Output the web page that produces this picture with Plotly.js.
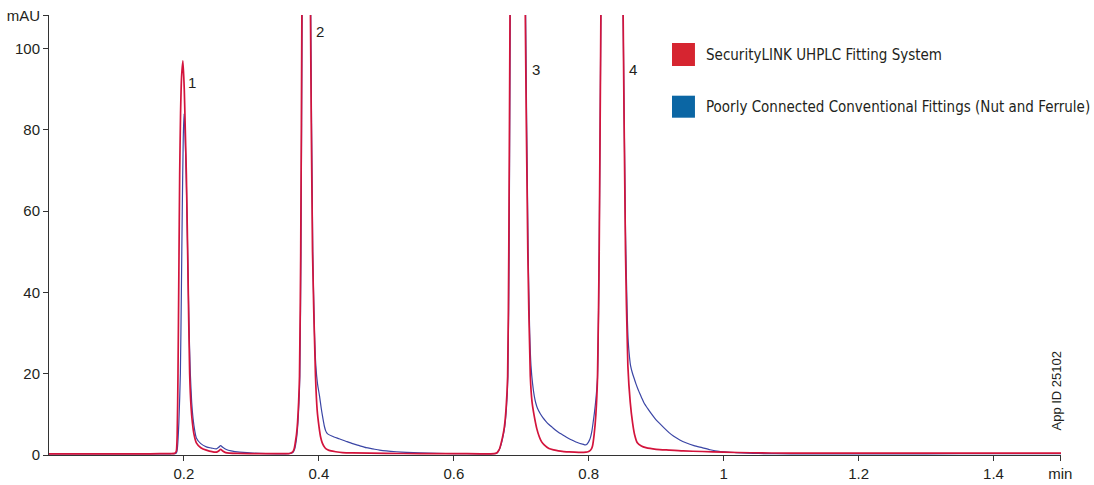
<!DOCTYPE html>
<html>
<head>
<meta charset="utf-8">
<script src="https://cdn.plot.ly/plotly-3.0.1.min.js"></script>
<style>
  html, body { margin: 0; padding: 0; background: #ffffff; }
  #chart { width: 1094px; height: 485px; }
</style>
</head>
<body>
<div id="chart"></div>
<script>
// ---- Data ----
const seriesNames = [
  "SecurityLINK UHPLC Fitting System",
  "Poorly Connected Conventional Fittings (Nut and Ferrule)"
];

// SecurityLINK UHPLC Fitting System (red)
const redTime = [0, 0.05, 0.1, 0.15, 0.18, 0.186, 0.1875, 0.1888, 0.19, 0.1912, 0.1925, 0.1937, 0.195, 0.1965, 0.1985, 0.2005, 0.202, 0.2036, 0.206, 0.2085, 0.2105, 0.2125, 0.215, 0.2184, 0.225, 0.2332, 0.248, 0.2515, 0.2544, 0.2575, 0.262, 0.28, 0.32, 0.355, 0.358, 0.3614, 0.3635, 0.365, 0.3668, 0.3684, 0.37, 0.3713, 0.3731, 0.3748, 0.3812, 0.3876, 0.3906, 0.395, 0.3975, 0.4002, 0.4025, 0.405, 0.409, 0.413, 0.418, 0.425, 0.435, 0.45, 0.5, 0.55, 0.6, 0.64, 0.66, 0.6635, 0.666, 0.668, 0.6695, 0.672, 0.675, 0.6775, 0.6798, 0.6815, 0.6833, 0.6947, 0.706, 0.7097, 0.7134, 0.716, 0.7193, 0.723, 0.7267, 0.73, 0.734, 0.741, 0.748, 0.755, 0.763, 0.771, 0.785, 0.796, 0.799, 0.8015, 0.804, 0.8056, 0.808, 0.8106, 0.813, 0.8155, 0.818, 0.8345, 0.851, 0.8545, 0.858, 0.8615, 0.865, 0.868, 0.872, 0.878, 0.8847, 0.9, 0.919, 0.94, 0.968, 1.0, 1.04, 1.1, 1.2, 1.3, 1.4, 1.5];
const redAbs  = [0.3, 0.3, 0.3, 0.3, 0.35, 0.4, 0.6, 1.0, 5, 20, 45, 69, 84, 93, 97, 90, 80, 69, 45, 20, 12, 8, 5, 3.0, 1.8, 1.2, 0.7, 1.0, 1.4, 1.0, 0.6, 0.4, 0.35, 0.35, 0.45, 0.8, 1.6, 3, 5, 8, 13, 19.4, 50, 108, 330, 108, 50, 19.4, 11, 7, 4.5, 3, 1.8, 1.3, 1.0, 0.8, 0.6, 0.5, 0.4, 0.35, 0.35, 0.3, 0.35, 0.5, 1.0, 1.6, 2.5, 4.2, 7, 11.5, 19.4, 50, 108, 450, 108, 50, 19.4, 13, 9.5, 6.5, 4.5, 3.3, 2.5, 1.6, 1.25, 1.0, 0.85, 0.75, 0.65, 0.7, 0.8, 1.0, 1.5, 2.2, 5, 10, 19, 50, 108, 450, 108, 50, 22, 13, 7.9, 5, 3.0, 2.2, 1.8, 1.4, 1.2, 1.0, 0.86, 0.7, 0.55, 0.45, 0.45, 0.45, 0.45, 0.45];

// Poorly Connected Conventional Fittings (blue)
const blueTime = [0, 0.1, 0.18, 0.188, 0.1895, 0.1905, 0.1925, 0.1947, 0.1962, 0.1975, 0.199, 0.2001, 0.2015, 0.2036, 0.2055, 0.2075, 0.2095, 0.2115, 0.2135, 0.216, 0.2184, 0.225, 0.2332, 0.241, 0.248, 0.2515, 0.2544, 0.2575, 0.2628, 0.27, 0.2825, 0.312, 0.355, 0.3614, 0.364, 0.3655, 0.3672, 0.369, 0.3705, 0.3718, 0.3735, 0.3752, 0.3815, 0.388, 0.391, 0.3935, 0.3955, 0.398, 0.401, 0.4035, 0.406, 0.408, 0.41, 0.4115, 0.413, 0.42, 0.43, 0.44, 0.45, 0.46, 0.47, 0.48, 0.49, 0.5, 0.515, 0.53, 0.55, 0.575, 0.6, 0.64, 0.66, 0.664, 0.667, 0.67, 0.6725, 0.6755, 0.678, 0.6802, 0.682, 0.6837, 0.695, 0.7065, 0.7102, 0.7125, 0.7144, 0.7168, 0.7193, 0.7215, 0.724, 0.728, 0.732, 0.7365, 0.741, 0.746, 0.751, 0.756, 0.761, 0.766, 0.771, 0.776, 0.781, 0.786, 0.79, 0.793, 0.795, 0.797, 0.7985, 0.8, 0.8015, 0.803, 0.8048, 0.8065, 0.8085, 0.8106, 0.813, 0.8155, 0.818, 0.8345, 0.851, 0.8545, 0.857, 0.8585, 0.8605, 0.862, 0.8645, 0.867, 0.87, 0.873, 0.876, 0.879, 0.882, 0.8875, 0.893, 0.8995, 0.906, 0.912, 0.919, 0.926, 0.935, 0.944, 0.956, 0.968, 0.98, 0.993, 1.005, 1.018, 1.035, 1.052, 1.1, 1.2, 1.3, 1.4, 1.5];
const blueAbs  = [0.3, 0.3, 0.3, 0.4, 0.8, 2, 8, 20, 40, 60, 78, 84, 80, 67, 50, 32, 20, 13, 9, 6, 4.2, 2.8, 2.0, 1.7, 1.5, 1.9, 2.3, 1.9, 1.35, 1.0, 0.7, 0.4, 0.35, 0.6, 1.4, 2.5, 4.5, 8, 13, 19.4, 50, 108, 330, 108, 50, 30, 22, 17.5, 14.5, 11.5, 9, 7.2, 6, 5.5, 5.2, 4.6, 4.0, 3.4, 2.8, 2.3, 1.8, 1.5, 1.2, 1.0, 0.8, 0.65, 0.5, 0.4, 0.35, 0.3, 0.35, 0.5, 1.2, 2.5, 4.2, 7, 11.5, 19.4, 50, 108, 450, 108, 50, 30, 22, 17.5, 14.5, 12.8, 11.5, 10.2, 9.2, 8.3, 7.5, 6.8, 6.1, 5.5, 5.0, 4.5, 4.0, 3.6, 3.2, 2.9, 2.7, 2.55, 2.5, 2.6, 2.9, 3.3, 3.8, 4.6, 6, 8, 10.5, 13.7, 19, 50, 108, 450, 108, 55, 35, 28, 24, 22, 20.3, 19, 17.5, 16.2, 15, 13.9, 12.8, 11.4, 10.1, 8.7, 7.6, 6.6, 5.5, 4.6, 3.7, 3.0, 2.3, 1.8, 1.3, 0.9, 0.72, 0.6, 0.45, 0.37, 0.3, 0.3, 0.3, 0.35, 0.35];

// Peak labels
const peakLabels = ["1", "2", "3", "4"];
const peakLabelX = [0.2125, 0.402, 0.7218, 0.8663];
const peakLabelY = [91.7, 104.3, 94.8, 94.8];

// Tick labels
const xTickVals = [0.2, 0.4, 0.6, 0.8, 1.0, 1.2, 1.4, 1.499];
const xTickText = ["0.2", "0.4", "0.6", "0.8", "1", "1.2", "1.4", "min"];
const yTickVals = [0, 20, 40, 60, 80, 100, 108.2];
const yTickText = ["0", "20", "40", "60", "80", "100", "mAU"];

const appId = "App ID 25102";

// ---- Styling ----
const lineRed = "#d3143c";
const lineBlue = "#3a45a5";
const legendRed = "#d62530";
const legendBlue = "#0b66a4";
const txt = "#231f20";
const fontFam = "Liberation Sans, Arial, Helvetica, sans-serif";
const narrowFam = "DejaVu Sans Condensed, Liberation Sans Narrow, sans-serif";

const traces = [
  { x: blueTime, y: blueAbs, type: "scatter", mode: "lines", name: seriesNames[1],
    line: { color: lineBlue, width: 1.2, shape: "spline", smoothing: 0.6 }, showlegend: false, hoverinfo: "skip" },
  { x: redTime, y: redAbs, type: "scatter", mode: "lines", name: seriesNames[0],
    line: { color: lineRed, width: 1.7, shape: "spline", smoothing: 0.6 }, showlegend: false, hoverinfo: "skip" }
];

const annotations = peakLabels.map((t, i) => ({
  x: peakLabelX[i], y: peakLabelY[i], xref: "x", yref: "y", text: t,
  showarrow: false, font: { family: fontFam, size: 15, color: txt },
  xanchor: "center", yanchor: "middle"
}));

// legend text
annotations.push({
  x: 0.6472, y: 0.9091, xref: "paper", yref: "paper", text: seriesNames[0],
  showarrow: false, xanchor: "left", yanchor: "middle",
  font: { family: narrowFam, size: 15, color: txt }
});
annotations.push({
  x: 0.6472, y: 0.7909, xref: "paper", yref: "paper", text: seriesNames[1],
  showarrow: false, xanchor: "left", yanchor: "middle",
  font: { family: narrowFam, size: 15, color: txt }
});
// App ID
annotations.push({
  x: 0.9958, y: 0.146, xref: "paper", yref: "paper", text: appId,
  showarrow: false, textangle: -90, xanchor: "center", yanchor: "middle",
  font: { family: fontFam, size: 13, color: txt }
});

const shapes = [
  { type: "rect", xref: "paper", yref: "paper", x0: 0.6156, x1: 0.6383, y0: 0.8841, y1: 0.9364,
    fillcolor: legendRed, line: { width: 0 } },
  { type: "rect", xref: "paper", yref: "paper", x0: 0.6156, x1: 0.6383, y0: 0.7666, y1: 0.8166,
    fillcolor: legendBlue, line: { width: 0 } }
];

const layout = {
  width: 1094, height: 485,
  margin: { l: 49, r: 33, t: 15, b: 30, pad: 0 },
  paper_bgcolor: "#ffffff", plot_bgcolor: "#ffffff",
  showlegend: false,
  font: { family: fontFam, size: 15, color: txt },
  xaxis: {
    range: [0, 1.5], showgrid: false, zeroline: false,
    showline: true, linecolor: "#333333", linewidth: 1,
    ticks: "outside", ticklen: 5, tickcolor: "#333333", tickwidth: 1,
    tickmode: "array", tickvals: xTickVals, ticktext: xTickText,
    tickfont: { family: fontFam, size: 15, color: txt }
  },
  yaxis: {
    range: [0, 108.3], showgrid: false, zeroline: false,
    showline: true, linecolor: "#333333", linewidth: 1,
    ticks: "outside", ticklen: 5, tickcolor: "#333333", tickwidth: 1,
    tickmode: "array", tickvals: yTickVals, ticktext: yTickText,
    tickfont: { family: fontFam, size: 15, color: txt }
  },
  annotations: annotations,
  shapes: shapes
};

Plotly.newPlot("chart", traces, layout, { staticPlot: true, displayModeBar: false });
</script>
</body>
</html>
